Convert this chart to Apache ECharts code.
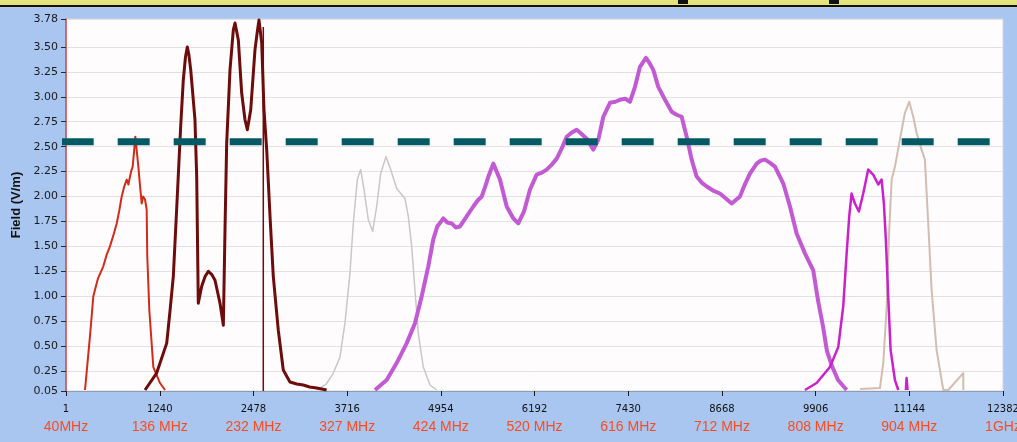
<!DOCTYPE html>
<html>
<head>
<meta charset="utf-8">
<script src="https://cdn.jsdelivr.net/npm/echarts@6/dist/echarts.min.js"></script>
<style>
  html, body { margin: 0; padding: 0; background: #a8c6f0; }
  #chart { width: 1017px; height: 442px; }
</style>
</head>
<body>
<div id="chart"></div>
<script>
// Sweep index ticks and the matching frequency labels
const xTicks = [1, 1240, 2478, 3716, 4954, 6192, 7430, 8668, 9906, 11144, 12382];
const freqLabels = ['40MHz', '136 MHz', '232 MHz', '327 MHz', '424 MHz', '520 MHz',
                    '616 MHz', '712 MHz', '808 MHz', '904 MHz', '1GHz'];
const yTicks = [0.05, 0.25, 0.5, 0.75, 1.0, 1.25, 1.5, 1.75, 2.0, 2.25, 2.5, 2.75, 3.0, 3.25, 3.5, 3.78];

// Field limit level (V/m)
const limitLevel = 2.55;
const limitSpan = [-56, 12567];

// Measured field per antenna band: [sweep index, V/m]
const band1 = [[252,0.06],[318,0.60],[362,1.00],[424,1.18],[494,1.30],[540,1.42],[582,1.50],[630,1.62],
  [671,1.73],[705,1.86],[737,2.00],[770,2.10],[803,2.17],[825,2.12],[847,2.20],[865,2.26],[882,2.30],
  [900,2.45],[917,2.60],[937,2.45],[957,2.30],[980,2.10],[1001,1.93],[1020,2.00],[1045,1.97],
  [1067,1.87],[1075,1.40],[1102,0.86],[1155,0.29],[1243,0.13],[1309,0.06]];

const band2 = [[1045,0.06],[1199,0.23],[1332,0.53],[1375,0.85],[1419,1.20],[1463,1.87],[1516,2.70],
  [1551,3.17],[1580,3.40],[1604,3.50],[1625,3.42],[1649,3.27],[1705,2.77],[1728,2.20],[1749,0.93],
  [1794,1.10],[1840,1.20],[1882,1.25],[1925,1.22],[1970,1.16],[2036,0.93],[2080,0.71],[2102,1.67],
  [2124,2.53],[2168,3.27],[2212,3.67],[2234,3.74],[2255,3.66],[2278,3.57],[2322,3.04],[2366,2.77],
  [2397,2.67],[2442,2.87],[2498,3.47],[2530,3.66],[2551,3.77],[2587,3.54],[2617,2.87],[2653,2.47],
  [2697,1.80],[2740,1.20],[2806,0.66],[2872,0.26],[2960,0.14],[3050,0.12],[3136,0.11],[3220,0.09],
  [3313,0.08],[3445,0.06]];

const band2Edge = [[2608,3.70],[2608,0.05]];

const band3 = [[3314,0.06],[3440,0.12],[3533,0.23],[3621,0.39],[3687,0.73],[3753,1.23],[3797,1.73],
  [3850,2.17],[3895,2.27],[3939,2.07],[3995,1.77],[4053,1.65],[4106,1.90],[4159,2.23],[4229,2.40],
  [4291,2.27],[4371,2.08],[4480,1.98],[4524,1.80],[4569,1.50],[4612,1.06],[4656,0.63],[4722,0.29],
  [4811,0.11],[4899,0.06]];

const band4 = [[4084,0.06],[4238,0.16],[4370,0.33],[4503,0.53],[4612,0.73],[4701,1.00],[4788,1.30],
  [4854,1.57],[4907,1.70],[4986,1.78],[5040,1.74],[5097,1.73],[5150,1.69],[5207,1.70],[5295,1.80],
  [5383,1.90],[5440,1.96],[5494,2.00],[5540,2.10],[5582,2.20],[5647,2.33],[5735,2.17],[5824,1.90],
  [5912,1.78],[5977,1.73],[6053,1.85],[6132,2.07],[6220,2.22],[6290,2.24],[6352,2.27],[6420,2.32],
  [6485,2.38],[6550,2.48],[6617,2.60],[6680,2.64],[6749,2.67],[6810,2.63],[6881,2.58],[6969,2.47],
  [7035,2.57],[7101,2.80],[7189,2.94],[7260,2.95],[7321,2.97],[7390,2.98],[7453,2.95],[7519,3.10],
  [7585,3.30],[7664,3.39],[7710,3.34],[7761,3.27],[7827,3.10],[7916,2.97],[8004,2.85],[8070,2.82],
  [8136,2.80],[8202,2.60],[8268,2.37],[8334,2.20],[8400,2.14],[8467,2.10],[8550,2.06],[8642,2.03],
  [8720,1.98],[8797,1.93],[8906,2.00],[8970,2.12],[9038,2.23],[9127,2.33],[9180,2.36],[9237,2.37],
  [9300,2.34],[9369,2.30],[9479,2.13],[9567,1.90],[9655,1.63],[9765,1.43],[9875,1.26],[9937,0.96],
  [10003,0.70],[10056,0.45],[10122,0.30],[10202,0.16],[10316,0.06]];

const band5 = [[9765,0.06],[9919,0.13],[10095,0.29],[10205,0.49],[10271,0.90],[10316,1.43],[10350,1.80],
  [10381,2.03],[10425,1.93],[10478,1.85],[10535,2.03],[10601,2.27],[10667,2.22],[10733,2.12],
  [10778,2.17],[10808,1.93],[10834,1.57],[10865,1.00],[10897,0.46],[10954,0.16],[10998,0.06],
  [11050,'-'],[11099,0.06],[11108,0.18],[11121,0.06]];

const band6 = [[10492,0.07],[10756,0.08],[10800,0.33],[10845,0.90],[10879,1.67],[10911,2.17],
  [10954,2.30],[11020,2.57],[11086,2.84],[11143,2.95],[11196,2.80],[11240,2.64],[11306,2.47],
  [11350,2.37],[11394,1.73],[11439,1.06],[11505,0.46],[11593,0.06],[11659,0.06],[11857,0.23],
  [11858,0.06]];

const chart = echarts.init(document.getElementById('chart'), null, { renderer: 'canvas' });

function trace(data, color, width, z) {
  return {
    type: 'line', data: data, symbol: 'none', z: z || 3,
    lineStyle: { color: color, width: width, join: 'round' },
    emphasis: { disabled: true }, animation: false
  };
}

chart.setOption({
  animation: false,
  backgroundColor: '#a8c6f0',
  graphic: [
    { type: 'rect', shape: { x: 0, y: 0, width: 1017, height: 5 }, style: { fill: '#e4e47a' }, silent: true },
    { type: 'rect', shape: { x: 0, y: 5, width: 1017, height: 2 }, style: { fill: '#111111' }, silent: true },
    { type: 'rect', shape: { x: 0, y: 7, width: 1017, height: 1 }, style: { fill: '#c4c8d0' }, silent: true },
    { type: 'rect', shape: { x: 678, y: 0, width: 10, height: 4 }, style: { fill: '#111111' }, silent: true },
    { type: 'rect', shape: { x: 829, y: 0, width: 10, height: 4 }, style: { fill: '#111111' }, silent: true }
  ],
  grid: {
    left: 66, right: 14, top: 19, bottom: 51,
    outerBoundsMode: 'none', containLabel: false,
    show: true, backgroundColor: '#fffcfe', borderColor: '#d6d6dc', borderWidth: 1
  },
  xAxis: {
    type: 'value', min: 1, max: 12382,
    axisLine: { show: true, lineStyle: { color: '#8c9cb4', width: 1 } },
    axisTick: { show: true, customValues: xTicks, length: 5, lineStyle: { color: '#1a1a1a' } },
    axisLabel: {
      customValues: xTicks, margin: 10, hideOverlap: false,
      formatter: function (v) {
        const i = xTicks.indexOf(v);
        return '{n|' + v + '}\n{f|' + (i >= 0 ? freqLabels[i] : '') + '}';
      },
      rich: {
        n: { fontFamily: 'DejaVu Sans', fontSize: 10, color: '#111111', lineHeight: 16 },
        f: { fontFamily: 'Liberation Sans', fontSize: 14, color: '#ff4a1e', lineHeight: 20 }
      }
    },
    splitLine: { show: false }
  },
  yAxis: {
    type: 'value', min: 0.05, max: 3.78,
    name: 'Field (V/m)', nameLocation: 'middle', nameGap: 41,
    nameTextStyle: { fontFamily: 'Liberation Sans', fontWeight: 'bold', fontSize: 13, color: '#111111' },
    axisLine: { show: true, lineStyle: { color: '#c44848', width: 1.5 } },
    axisTick: { show: true, customValues: yTicks, length: 5, lineStyle: { color: '#2a2a2a' } },
    axisLabel: {
      customValues: yTicks, margin: 8,
      fontFamily: 'DejaVu Sans', fontSize: 11, color: '#1a1a1a',
      formatter: function (v) { return v.toFixed(2); }
    },
    splitLine: { show: true, lineStyle: { color: '#e2e2e4', width: 1 } }
  },
  series: [
    trace(band3, '#c8c8c8', 1.5, 2),
    trace(band1, '#d42a18', 2, 3),
    trace(band2, '#6e0c0c', 3, 4),
    trace(band2Edge, '#6e0c0c', 1.5, 4),
    trace(band4, '#c25ad4', 4, 3),
    trace(band6, '#d2bdb0', 2, 3),
    trace(band5, '#cc20cc', 2.5, 4),
    {
      type: 'line', symbol: 'none', clip: false, z: 6,
      data: [[limitSpan[0], limitLevel], [limitSpan[1], limitLevel]],
      lineStyle: { color: '#035a64', width: 7, type: [32, 24], cap: 'butt' },
      emphasis: { disabled: true }, animation: false
    }
  ]
});
</script>
</body>
</html>
